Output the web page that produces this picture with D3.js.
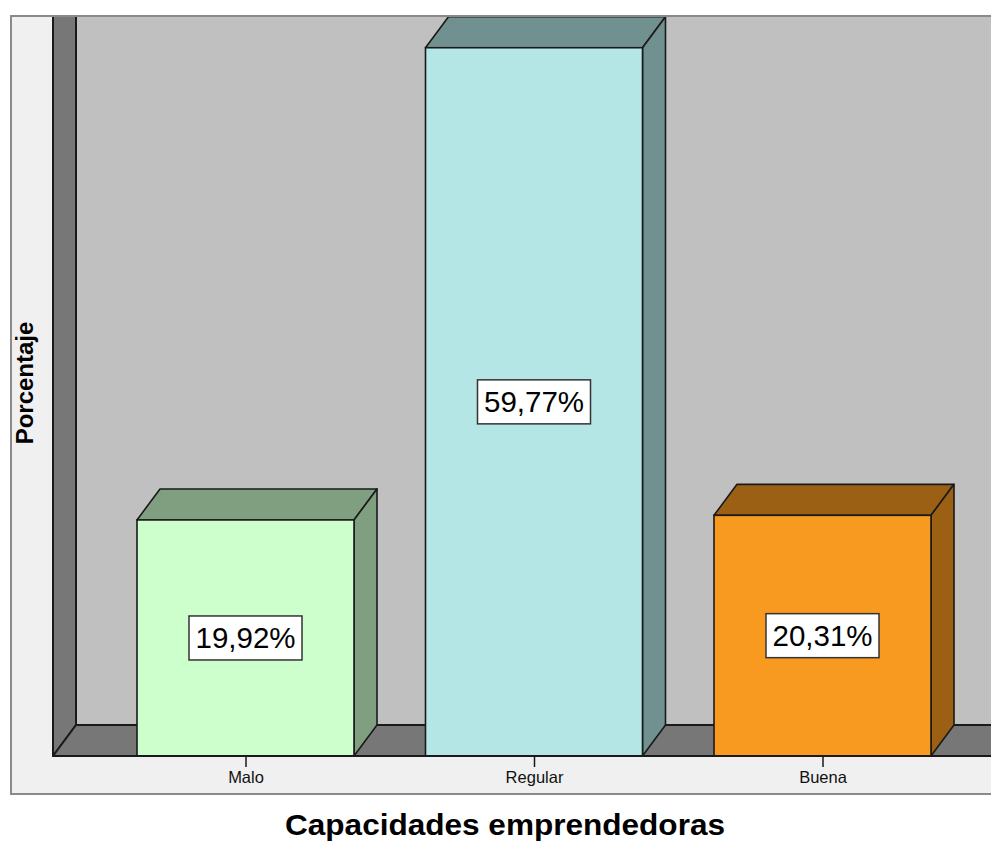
<!DOCTYPE html>
<html>
<head>
<meta charset="utf-8">
<script src="https://cdn.jsdelivr.net/npm/d3@7/dist/d3.min.js"></script>
<style>
  html, body { margin: 0; padding: 0; background: #ffffff; }
  svg { display: block; }
  text { font-family: Arial, "Liberation Sans", sans-serif; }
</style>
</head>
<body>
<svg id="chart" width="991" height="841"></svg>
<script>
// Categories and percentages
const categories = ["Malo", "Regular", "Buena"];
const percentages = [19.92, 59.77, 20.31];
const valueLabels = ["19,92%", "59,77%", "20,31%"];
const frontColors = ["#ccffcc", "#b4e6e6", "#f89a1f"];
const xTitle = "Capacidades emprendedoras";
const yTitle = "Porcentaje";

const W = 991, H = 841;
const frame = { left: 11, top: 16, bottom: 794 };
const floorY = 756;          // front edge of the floor (value 0)
const depth = { dx: 23, dy: -31 };
const wallX = 53;            // front edge of the left wall
const barWidth = 217;

const svg = d3.select("#chart");

const x = d3.scalePoint().domain(categories).range([245.5, 822.5]);
const y = d3.scaleLinear().domain([0, 60]).range([floorY, 45]);

// side/top shading of a 3D bar
const shade = c => {
  const r = d3.rgb(c);
  return d3.rgb(r.r * 0.625, r.g * 0.625, r.b * 0.625).formatHex();
};

// outer frame
svg.append("rect")
  .attr("x", frame.left).attr("y", frame.top)
  .attr("width", W + 10 - frame.left).attr("height", frame.bottom - frame.top)
  .attr("fill", "#f0f0f0").attr("stroke", "#8a8a8a").attr("stroke-width", 2);

const defs = svg.append("defs");
defs.append("clipPath").attr("id", "plotClip")
  .append("rect").attr("x", wallX - 2).attr("y", frame.top + 1)
  .attr("width", W).attr("height", floorY - frame.top + 4);

const plot = svg.append("g").attr("clip-path", "url(#plotClip)");

// back wall
plot.append("rect")
  .attr("x", wallX + depth.dx).attr("y", 0)
  .attr("width", W).attr("height", floorY + depth.dy)
  .attr("fill", "#c0c0c0");

// left wall
plot.append("path")
  .attr("d", `M${wallX},0 L${wallX + depth.dx},0 L${wallX + depth.dx},${floorY + depth.dy} L${wallX},${floorY} Z`)
  .attr("fill", "#777777").attr("stroke", "#1a1a1a").attr("stroke-width", 2)
  .attr("stroke-linejoin", "round");

// floor
plot.append("path")
  .attr("d", `M${wallX},${floorY} L${wallX + depth.dx},${floorY + depth.dy} L${W + 40},${floorY + depth.dy} L${W + 40},${floorY} Z`)
  .attr("fill", "#777777").attr("stroke", "#1a1a1a").attr("stroke-width", 2)
  .attr("stroke-linejoin", "round");

// bars
const data = categories.map((c, i) => ({ cat: c, v: percentages[i], label: valueLabels[i], color: frontColors[i] }));

const bars = plot.selectAll("g.bar").data(data).join("g").attr("class", "bar");

bars.each(function(d) {
  const g = d3.select(this);
  const x0 = x(d.cat) - barWidth / 2, x1 = x(d.cat) + barWidth / 2;
  const yt = y(d.v), yb = y(0);
  const dx = depth.dx, dy = depth.dy;
  const dark = shade(d.color);
  // top face
  g.append("path")
    .attr("d", `M${x0},${yt} L${x0 + dx},${yt + dy} L${x1 + dx},${yt + dy} L${x1},${yt} Z`)
    .attr("fill", dark).attr("stroke", "#1a1a1a").attr("stroke-width", 1.6).attr("stroke-linejoin", "round");
  // side face
  g.append("path")
    .attr("d", `M${x1},${yt} L${x1 + dx},${yt + dy} L${x1 + dx},${yb + dy} L${x1},${yb} Z`)
    .attr("fill", dark).attr("stroke", "#1a1a1a").attr("stroke-width", 1.6).attr("stroke-linejoin", "round");
  // front face
  g.append("rect")
    .attr("x", x0).attr("y", yt).attr("width", barWidth).attr("height", yb - yt)
    .attr("fill", d.color).attr("stroke", "#1a1a1a").attr("stroke-width", 1.6);
});

// front floor edge
svg.append("line")
  .attr("x1", wallX).attr("x2", W).attr("y1", floorY).attr("y2", floorY)
  .attr("stroke", "#1a1a1a").attr("stroke-width", 2);

// value labels
const labels = svg.selectAll("g.vlabel").data(data).join("g").attr("class", "vlabel")
  .attr("transform", d => `translate(${x(d.cat)},${(y(d.v) + y(0)) / 2})`);
labels.append("rect")
  .attr("x", -56.5).attr("y", -22).attr("width", 113).attr("height", 44)
  .attr("fill", "#ffffff").attr("stroke", "#333333").attr("stroke-width", 1.5);
labels.append("text")
  .attr("text-anchor", "middle").attr("y", 10.5)
  .attr("font-size", 29.5).attr("fill", "#000")
  .text(d => d.label);

// category axis
const axis = d3.axisBottom(x).tickSize(11).tickPadding(4);
const axG = svg.append("g").attr("transform", `translate(0,${floorY})`).call(axis);
axG.select(".domain").remove();
axG.selectAll(".tick line").attr("stroke", "#1a1a1a").attr("stroke-width", 1.5);
axG.selectAll(".tick text")
  .attr("font-size", 16.5).attr("fill", "#111")
  .attr("font-family", "Arial, 'Liberation Sans', sans-serif");

// axis titles
svg.append("text")
  .attr("x", 505).attr("y", 834.5)
  .attr("text-anchor", "middle").attr("font-size", 30).attr("font-weight", "bold").attr("fill", "#000")
  .attr("textLength", 440).attr("lengthAdjust", "spacingAndGlyphs")
  .text(xTitle);

svg.append("text")
  .attr("transform", "translate(33,383) rotate(-90)")
  .attr("text-anchor", "middle").attr("font-size", 24).attr("font-weight", "bold").attr("fill", "#000")
  .text(yTitle);
</script>
</body>
</html>
